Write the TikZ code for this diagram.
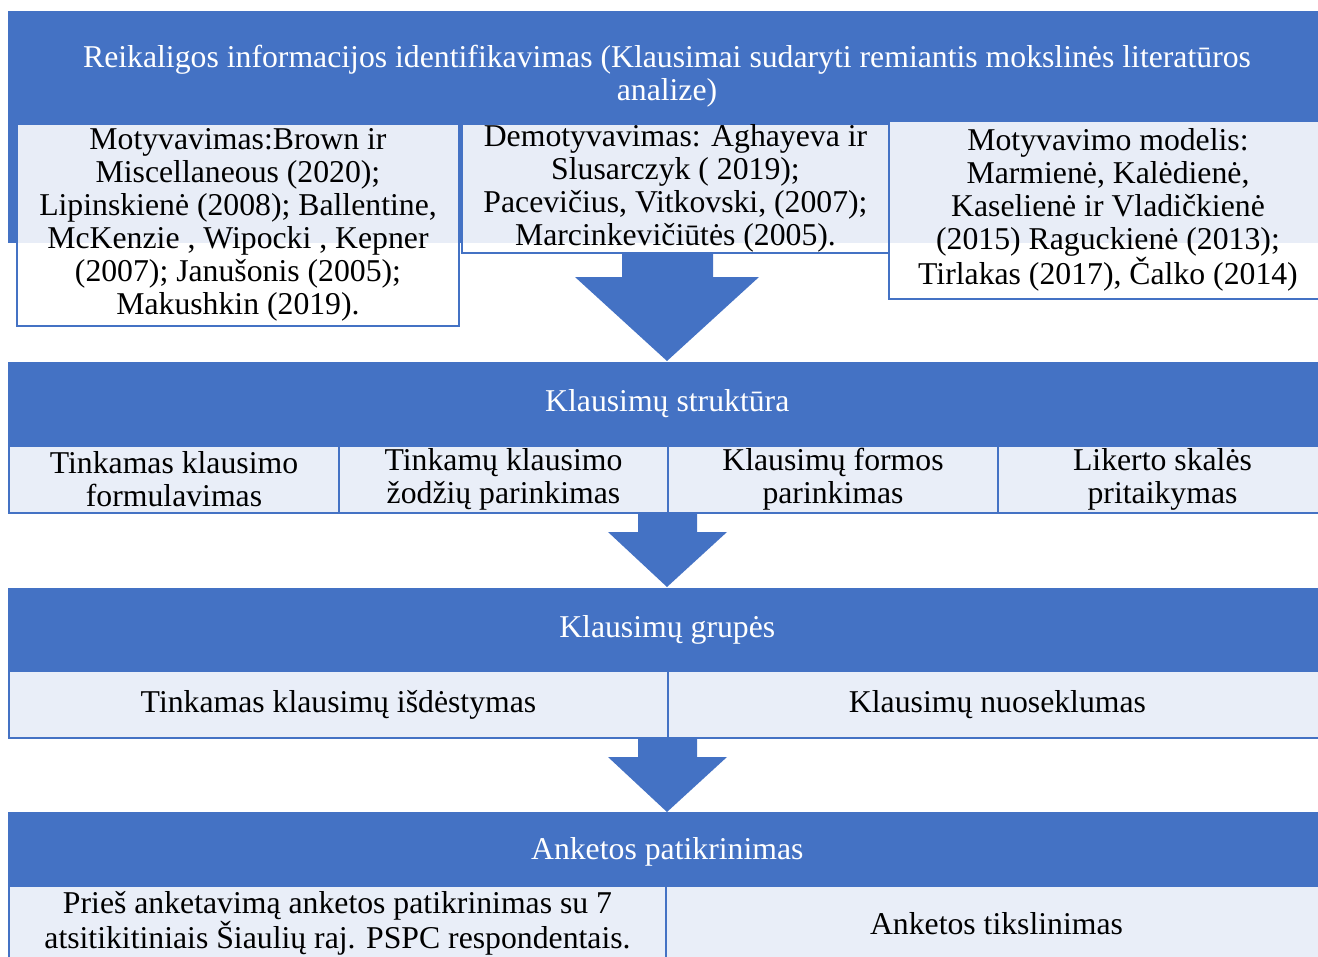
\documentclass[tikz,border=0pt]{standalone}
\usepackage{fontspec}
\setmainfont{Liberation Serif}
\definecolor{melyna}{HTML}{4472C4}
\definecolor{sviesi}{HTML}{E9EEF8}
\newcommand{\tekstas}{\fontsize{23.8}{24.75}\selectfont}
\newdimen\px \px=0.75pt

\begin{document}
\begin{tikzpicture}[x=0.75pt, y=-0.75pt,
    every node/.style={align=center, inner sep=0pt, font=\tekstas},
    juosta/.style={fill=melyna, text=white, anchor=north west},
    langelis/.style={draw=melyna, line width=1.5pt, fill=white, fill opacity=0.88,
        text opacity=1, anchor=north west},
    eilute/.style={draw=melyna, line width=1.5pt, fill=sviesi, anchor=north west},
    rodykle/.style={fill=melyna}]

    \useasboundingbox (0,0) rectangle (1318,957);
    \clip (0,0) rectangle (1318,957);

    % Rodykles tarp etapu
    \fill[rodykle] (622,253) -- (713,253) -- (713,277) -- (759,277) -- (667,361)
        -- (575,277) -- (622,277) -- cycle;
    \fill[rodykle] (638,512) -- (697,512) -- (697,532) -- (727,532) -- (667,587)
        -- (608,532) -- (638,532) -- cycle;
    \fill[rodykle] (638,737) -- (697,737) -- (697,757) -- (727,757) -- (667,812)
        -- (608,757) -- (638,757) -- cycle;

    % 1 etapas
    \node[juosta, minimum width=1318\px, minimum height=232\px] (e1) at (8,11) {};
    \node[text=white] (e1t) at (667,76) {Reikaligos informacijos identifikavimas (Klausimai sudaryti remiantis mokslinės literatūros\\analize)};
    \node[langelis, minimum width=442\px, minimum height=202\px] (m1) at (16,123)
        {Motyvavimas:Brown ir\\Miscellaneous (2020);\\Lipinskienė (2008); Ballentine,\\McKenzie , Wipocki , Kepner\\(2007); Janušonis (2005);\\Makushkin (2019).};
    \node[langelis, minimum width=427\px, minimum height=129\px] (m2) at (461,123)
        {Demotyvavimas: Aghayeva ir\\Slusarczyk ( 2019);\\Pacevičius, Vitkovski, (2007);\\Marcinkevičiūtės (2005).};
    \node[langelis, minimum width=438\px, minimum height=178\px] (m3) at (888,120)
        {Motyvavimo modelis:\\Marmienė, Kalėdienė,\\Kaselienė ir Vladičkienė\\(2015) Raguckienė (2013);\\Tirlakas (2017), Čalko (2014)};

    % 2 etapas
    \node[juosta, minimum width=1318\px, minimum height=83\px] (e2) at (8,362) {Klausimų struktūra};
    \node[eilute, minimum width=330\px, minimum height=67\px] (s1) at (8,445) {Tinkamas klausimo\\formulavimas};
    \node[eilute, minimum width=329\px, minimum height=67\px] (s2) at (338,445) {Tinkamų klausimo\\žodžių parinkimas};
    \node[eilute, minimum width=330\px, minimum height=67\px] (s3) at (667,445) {Klausimų formos\\parinkimas};
    \node[eilute, minimum width=329\px, minimum height=67\px] (s4) at (997,445) {Likerto skalės\\pritaikymas};

    % 3 etapas
    \node[juosta, minimum width=1318\px, minimum height=84\px] (e3) at (8,588) {Klausimų grupės};
    \node[eilute, minimum width=659\px, minimum height=67\px] (g1) at (8,670) {Tinkamas klausimų išdėstymas};
    \node[eilute, minimum width=659\px, minimum height=67\px] (g2) at (667,670) {Klausimų nuoseklumas};

    % 4 etapas
    \node[juosta, minimum width=1318\px, minimum height=80\px] (e4) at (8,812) {Anketos patikrinimas};
    \node[eilute, minimum width=657\px, minimum height=75\px] (p1) at (8,885)
        {Prieš anketavimą anketos patikrinimas su 7\\atsitikitiniais Šiaulių raj. PSPC respondentais.};
    \node[eilute, minimum width=661\px, minimum height=75\px] (p2) at (665,885) {Anketos tikslinimas};

\end{tikzpicture}
\end{document}
